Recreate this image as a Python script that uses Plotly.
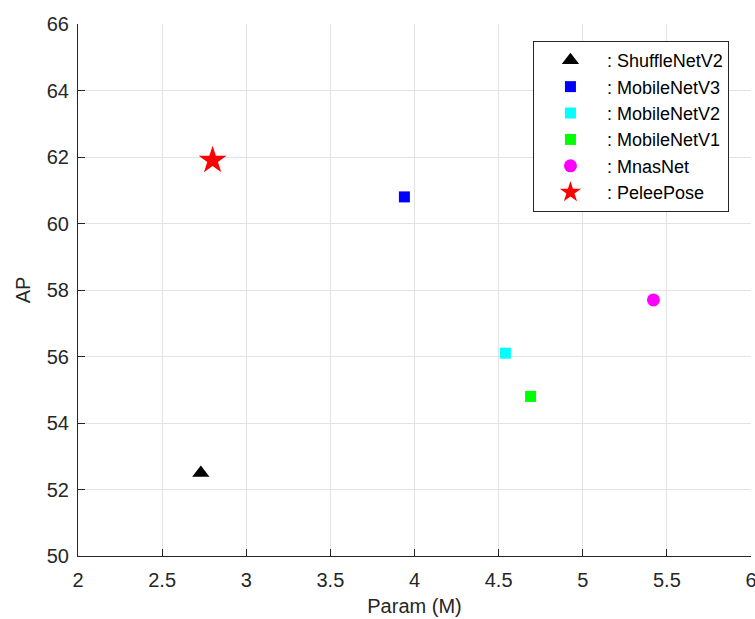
import plotly.graph_objects as go

models = ["ShuffleNetV2", "MobileNetV3", "MobileNetV2", "MobileNetV1", "MnasNet", "PeleePose"]
params = [2.73, 3.94, 4.54, 4.69, 5.42, 2.80]
ap = [52.5, 60.8, 56.1, 54.8, 57.7, 61.9]
colors = ["#000000", "#0000ff", "#00ffff", "#00ff00", "#ff00ff", "#ff0000"]
symbols = ["triangle-up", "square", "square", "square", "circle", "star"]
sizes = [15, 11, 11, 11, 13, 21]

xticks = [2, 2.5, 3, 3.5, 4, 4.5, 5, 5.5, 6]
yticks = [50, 52, 54, 56, 58, 60, 62, 64, 66]

fig = go.Figure()
for i, m in enumerate(models):
    fig.add_trace(go.Scatter(
        x=[params[i]], y=[ap[i]], mode="markers", name=": " + m,
        marker=dict(color=colors[i], symbol=symbols[i], size=sizes[i], line=dict(width=0)),
    ))

font = "Liberation Sans, Arial, Helvetica, sans-serif"
axcol = "#262626"
fig.update_layout(
    width=755, height=619,
    margin=dict(l=78, r=4, t=24, b=63, autoexpand=False),
    plot_bgcolor="white", paper_bgcolor="white",
    font=dict(family=font, size=20, color=axcol),
    showlegend=True,
    legend=dict(
        x=0.676, y=0.968, xanchor="left", yanchor="top",
        bgcolor="white", bordercolor="#262626", borderwidth=1,
        font=dict(size=18, color="#000000"),
        itemwidth=63,
    ),
    xaxis=dict(
        range=[2, 6], tickvals=xticks, ticktext=[str(v) for v in xticks],
        showgrid=True, gridcolor="#e3e3e3", gridwidth=1,
        showline=True, linecolor=axcol, linewidth=1, mirror=False,
        ticks="inside", ticklen=7, tickcolor=axcol,
        ticklabelstandoff=6, ticklabeloverflow="allow", automargin=False,
        zeroline=False,
        title=dict(text="Param (M)", font=dict(size=20), standoff=8),
    ),
    yaxis=dict(
        range=[50, 66], tickvals=yticks, ticktext=[str(v) for v in yticks],
        showgrid=True, gridcolor="#e3e3e3", gridwidth=1,
        showline=True, linecolor=axcol, linewidth=1, mirror=False,
        ticks="inside", ticklen=7, tickcolor=axcol,
        ticklabelstandoff=4, automargin=False,
        zeroline=False,
        title=dict(text="AP", font=dict(size=20), standoff=10),
    ),
)

fig.write_html("out.html", config={"displayModeBar": False},
               post_script="document.body.style.margin='0';")
